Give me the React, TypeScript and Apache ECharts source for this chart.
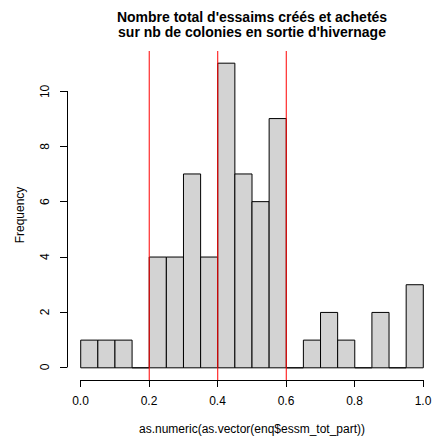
import React, { useEffect, useRef } from "react";
import * as echarts from "echarts";

const binStarts = [0, 0.05, 0.1, 0.15, 0.2, 0.25, 0.3, 0.35, 0.4, 0.45, 0.5, 0.55, 0.6, 0.65, 0.7, 0.75, 0.8, 0.85, 0.9, 0.95];
const binEnds = [0.05, 0.1, 0.15, 0.2, 0.25, 0.3, 0.35, 0.4, 0.45, 0.5, 0.55, 0.6, 0.65, 0.7, 0.75, 0.8, 0.85, 0.9, 0.95, 1.0];
const counts = [1, 1, 1, 0, 4, 4, 7, 4, 11, 7, 6, 9, 0, 1, 2, 1, 0, 2, 0, 3];
const refLines = [0.2, 0.4, 0.6];
const titleLines = ["Nombre total d'essaims créés et achetés", "sur nb de colonies en sortie d'hivernage"];
const xLabel = "as.numeric(as.vector(enq$essm_tot_part))";
const yLabel = "Frequency";

const Y_MIN = -0.44;
const Y_MAX = 11.44;

export default function App() {
  const ref = useRef<HTMLDivElement>(null);
  useEffect(() => {
    if (!ref.current) return;
    const chart = echarts.init(ref.current, null, { renderer: "svg" });
    const font = "Liberation Sans, Arial, sans-serif";
    const data = binStarts.map((s, i) => [s, binEnds[i], counts[i]]);
    chart.setOption({
      animation: false,
      backgroundColor: "#ffffff",
      textStyle: { fontFamily: font },
      grid: [
        { left: 67, right: 0, top: 51, bottom: 58 },
        { left: 80.5, right: 14, top: 51, bottom: 58 },
        { left: 67, width: 10, top: 91.4, bottom: 71 },
      ],
      xAxis: [
        { gridIndex: 0, type: "value", min: -0.04, max: 1.04, show: false },
        {
          gridIndex: 1, type: "value", min: 0, max: 1, interval: 0.2,
          axisLine: { show: true, lineStyle: { color: "#000", width: 1 } },
          axisTick: { show: true, length: 7, lineStyle: { color: "#000" } },
          axisLabel: { margin: 15, fontSize: 12, color: "#000", fontFamily: font, formatter: (v: number) => v.toFixed(1) },
          splitLine: { show: false },
        },
        { gridIndex: 2, type: "value", min: 0, max: 1, show: false },
      ],
      yAxis: [
        { gridIndex: 0, type: "value", min: Y_MIN, max: Y_MAX, show: false },
        { gridIndex: 1, type: "value", min: 0, max: 1, show: false },
        {
          gridIndex: 2, type: "value", min: 0, max: 10, interval: 2,
          axisLine: { show: true, lineStyle: { color: "#000", width: 1 } },
          axisTick: { show: true, length: 7, lineStyle: { color: "#000" } },
          axisLabel: { margin: 16, fontSize: 12, color: "#000", rotate: 90, fontFamily: font },
          splitLine: { show: false },
        },
      ],
      series: [
        {
          type: "custom",
          xAxisIndex: 0,
          yAxisIndex: 0,
          z: 2,
          data,
          renderItem: (params: any, api: any) => {
            const p0 = api.coord([api.value(0), 0]);
            const p1 = api.coord([api.value(1), api.value(2)]);
            return {
              type: "rect",
              shape: { x: p0[0], y: p1[1], width: p1[0] - p0[0], height: p0[1] - p1[1] },
              style: { fill: "#d3d3d3", stroke: "#000", lineWidth: 1 },
            };
          },
        },
        {
          type: "custom",
          xAxisIndex: 0,
          yAxisIndex: 0,
          z: 10,
          data: refLines.map((v) => [v]),
          renderItem: (params: any, api: any) => {
            const a = api.coord([api.value(0), Y_MIN]);
            const b = api.coord([api.value(0), Y_MAX]);
            return {
              type: "line",
              z2: 100,
              shape: { x1: a[0], y1: a[1], x2: b[0], y2: b[1] },
              style: { stroke: "#ff0000", lineWidth: 1 },
            };
          },
        },
      ],
      graphic: [
        {
          type: "text", x: 252, y: 17,
          style: { text: titleLines[0], font: `bold 14px ${font}`, fill: "#000", textAlign: "center", textVerticalAlign: "middle" },
        },
        {
          type: "text", x: 252, y: 32,
          style: { text: titleLines[1], font: `bold 14px ${font}`, fill: "#000", textAlign: "center", textVerticalAlign: "middle" },
        },
        {
          type: "text", x: 252, y: 429,
          style: { text: xLabel, font: `12px ${font}`, fill: "#000", textAlign: "center", textVerticalAlign: "middle" },
        },
        {
          type: "text", x: 20, y: 215, rotation: Math.PI / 2,
          style: { text: yLabel, font: `12px ${font}`, fill: "#000", textAlign: "center", textVerticalAlign: "middle" },
        },
      ],
    });
    return () => chart.dispose();
  }, []);
  return <div ref={ref} style={{ position: "fixed", left: 0, top: 0, width: 437, height: 438 }} />;
}
